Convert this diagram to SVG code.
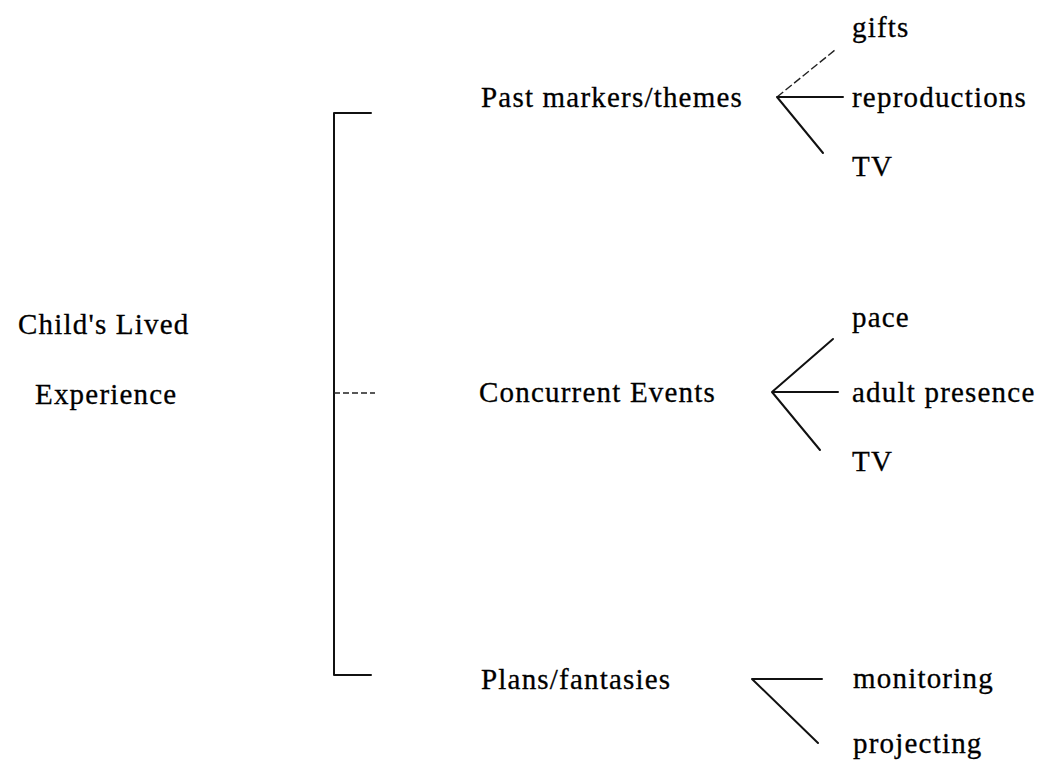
<svg xmlns="http://www.w3.org/2000/svg" width="1043" height="769" viewBox="0 0 1043 769">
<style>
text{font-family:"Liberation Serif","Times New Roman",serif;font-size:29px;fill:#000;letter-spacing:1.2px;stroke:#000;stroke-width:0.3}
.ln{stroke:#111;stroke-width:2;fill:none;stroke-linecap:round;stroke-linejoin:round}
.th{stroke:#222;stroke-width:1.4;fill:none}
</style>
<rect width="1043" height="769" fill="#fff"/>
<g id="root"><text x="18" y="334">Child's Lived</text><text x="35" y="404">Experience</text></g>
<g id="connectors">
<path class="ln" d="M371,113 L334,113 L334,675 L371,675"/>
<path class="th" d="M334,393 L375,393" stroke-dasharray="6,3"/>
<path class="th" d="M777,97 L835,50" stroke-dasharray="8,3"/>
<path class="ln" d="M843,97 L777,97 L823,153"/>
<path class="ln" d="M833,339 L772,392 L838,392 M772,392 L820,450"/>
<path class="ln" d="M822,679 L752,679 L818,743"/>
</g>
<g id="past"><text x="481" y="107">Past markers/themes</text></g>
<g id="gifts"><text x="852" y="37">gifts</text></g>
<g id="reproductions"><text x="852" y="107">reproductions</text></g>
<g id="tv1"><text x="852" y="176">TV</text></g>
<g id="concurrent"><text x="479" y="402">Concurrent Events</text></g>
<g id="pace"><text x="852" y="327">pace</text></g>
<g id="adult"><text x="852" y="402">adult presence</text></g>
<g id="tv2"><text x="852" y="471">TV</text></g>
<g id="plans"><text x="481" y="689">Plans/fantasies</text></g>
<g id="monitoring"><text x="853" y="688">monitoring</text></g>
<g id="projecting"><text x="853" y="753">projecting</text></g>
</svg>
